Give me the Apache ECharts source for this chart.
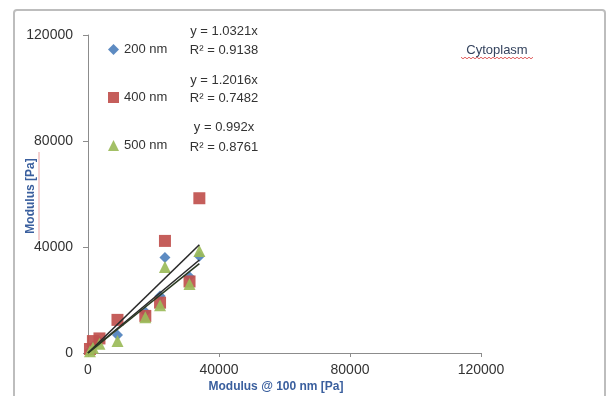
<!DOCTYPE html>
<html>
<head>
<meta charset="utf-8">
<script src="https://cdn.jsdelivr.net/npm/echarts@6/dist/echarts.min.js"></script>
<style>
  html, body { margin: 0; padding: 0; background: #fff; }
  #chart { width: 609px; height: 396px; }
</style>
</head>
<body>
<div id="chart"></div>
<script>
// Reference modulus at 100 nm indentation depth (x, Pa)
const xRef = [600, 1500, 3500, 9000, 17500, 22000, 23500, 31000, 34000];
// Modulus measured at each indentation depth (y, Pa)
const y200 = [900, 2500, 4500, 6800, 15500, 21500, 36000, 28800, 36500];
const y400 = [1500, 4500, 5500, 12500, 14000, 19000, 42300, 27000, 58400];
const y500 = [700, 2000, 3500, 4500, 13500, 18000, 32500, 26000, 38500];

const seriesNames = ['200 nm', '400 nm', '500 nm'];
// Linear fits through the origin
const slopes = [1.0321, 1.2016, 0.992];
const slopeText = ['1.0321', '1.2016', '0.992'];
const r2Text = ['0.9138', '0.7482', '0.8761'];

const colors = ['#4F81BD', '#C0504D', '#9BBB59'];
const symbols = ['diamond', 'rect', 'triangle'];
const symbolSizes = [11, 12, 12];
const yData = [y200, y400, y500];

const font = 'Liberation Sans, Arial, sans-serif';
const xMax = Math.max(...xRef);

const scatterSeries = yData.map((ys, i) => ({
  name: seriesNames[i],
  type: 'scatter',
  symbol: symbols[i],
  symbolSize: symbolSizes[i],
  itemStyle: { color: colors[i], opacity: 0.92 },
  data: xRef.map((x, k) => [x, ys[k]]),
  z: 3 + i
}));

const fitSeries = slopes.map((s, i) => ({
  name: 'fit ' + seriesNames[i],
  type: 'line',
  showSymbol: false,
  silent: true,
  lineStyle: { color: i === 2 ? '#2b3a22' : '#2a2a2a', width: 1.6 },
  data: [[0, 0], [xMax, s * xMax]],
  z: 8
}));

// Trendline equations beside the legend entries
const eqRowY = [31, 80, 127];
const r2RowY = [50, 98, 147];
const eqGraphics = [];
slopes.forEach((s, i) => {
  eqGraphics.push({
    type: 'text', x: 224, y: eqRowY[i],
    style: { text: 'y = ' + slopeText[i] + 'x', font: '13px ' + font, fill: '#333', textAlign: 'center', textVerticalAlign: 'middle' }
  });
  eqGraphics.push({
    type: 'text', x: 224, y: r2RowY[i],
    style: { text: 'R² = ' + r2Text[i], font: '13px ' + font, fill: '#333', textAlign: 'center', textVerticalAlign: 'middle' }
  });
});

// Red spell-check style squiggle under the annotation
function squiggle(x0, x1, y, amp, step) {
  const pts = [];
  let up = true;
  for (let x = x0; x <= x1; x += step) { pts.push([x, up ? y - amp : y + amp]); up = !up; }
  return pts;
}

const plainNumber = v => String(v);

const chart = echarts.init(document.getElementById('chart'), null, { renderer: 'canvas' });
chart.setOption({
  backgroundColor: '#fff',
  animation: false,
  grid: { left: 88, right: 128, top: 35, bottom: 43, containLabel: false },
  xAxis: {
    type: 'value', min: 0, max: 120000, interval: 40000,
    axisLine: { show: true, lineStyle: { color: '#8c8c8c', width: 1 } },
    axisTick: { show: true, length: 4, lineStyle: { color: '#8c8c8c' } },
    splitLine: { show: false },
    axisLabel: { color: '#333', fontSize: 14, fontFamily: font, margin: 10, formatter: plainNumber }
  },
  yAxis: {
    type: 'value', min: 0, max: 120000, interval: 40000,
    axisLine: { show: true, lineStyle: { color: '#8c8c8c', width: 1 } },
    axisTick: { show: true, length: 5, lineStyle: { color: '#8c8c8c' } },
    splitLine: { show: false },
    axisLabel: { color: '#333', fontSize: 14, fontFamily: font, margin: 15, formatter: plainNumber }
  },
  legend: {
    data: seriesNames,
    orient: 'vertical',
    left: 103, top: 38,
    itemWidth: 11, itemHeight: 11,
    itemGap: 35,
    textStyle: { color: '#333', fontSize: 13, fontFamily: font },
    selectedMode: false
  },
  graphic: [
    // chart frame
    { type: 'rect', shape: { x: 14, y: 10, width: 591, height: 400, r: 3 },
      style: { fill: 'none', stroke: '#bdbdbd', lineWidth: 2 }, z: -1 },
    ...eqGraphics,
    { type: 'text', x: 497, y: 50,
      style: { text: 'Cytoplasm', font: '13px ' + font, fill: '#34435e', textAlign: 'center', textVerticalAlign: 'middle' } },
    { type: 'polyline', shape: { points: squiggle(461, 533, 58, 0.8, 2) },
      style: { stroke: '#e06060', lineWidth: 1, fill: 'none' } },
    // axis titles
    { type: 'text', x: 276, y: 387,
      style: { text: 'Modulus @ 100 nm [Pa]', font: 'bold 12px ' + font, fill: '#3a5f9e', textAlign: 'center', textVerticalAlign: 'middle' } },
    { type: 'text', x: 31, y: 196, rotation: Math.PI / 2,
      style: { text: 'Modulus [Pa]', font: 'bold 12px ' + font, fill: '#3a5f9e', textAlign: 'center', textVerticalAlign: 'middle' } },
    { type: 'line', shape: { x1: 39, y1: 152, x2: 39, y2: 240 },
      style: { stroke: '#e8a0a0', lineWidth: 1 } }
  ],
  series: [...scatterSeries, ...fitSeries]
});
</script>
</body>
</html>
